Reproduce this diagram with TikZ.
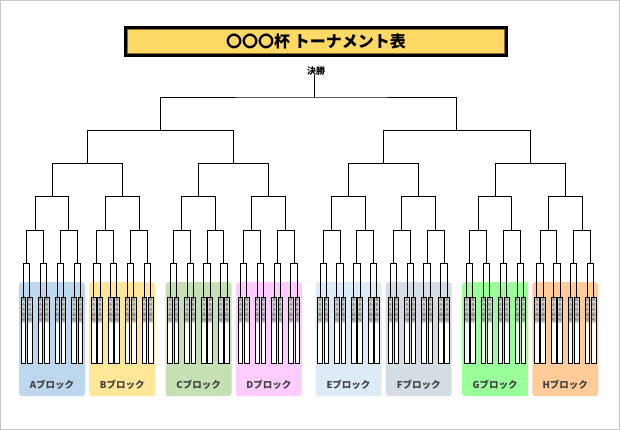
\documentclass[tikz,border=0pt]{standalone}
\usepackage{fontspec}
\setmainfont{Noto Sans CJK JP}
\newfontfamily\jp{Noto Sans CJK JP}
\usetikzlibrary{calc}
\definecolor{titlefill}{HTML}{FFD966}
\definecolor{titleline}{HTML}{8C6D1F}
\definecolor{blkA}{HTML}{BDD7EE}
\definecolor{blkB}{HTML}{FFE699}
\definecolor{blkC}{HTML}{C5E0B4}
\definecolor{blkD}{HTML}{FFCCFF}
\definecolor{blkE}{HTML}{DDEBF7}
\definecolor{blkF}{HTML}{D6DCE4}
\definecolor{blkG}{HTML}{99FF99}
\definecolor{blkH}{HTML}{FFCC99}
\definecolor{namefill}{HTML}{D0D0D0}
\begin{document}
\begin{tikzpicture}[x=1pt,y=-1pt,
  bracket/.style={draw=black, line width=1pt},
  boxline/.style={draw=black, line width=0.9pt},
  teambox/.style={fill=white, minimum width=4.2pt, minimum height=66pt, inner sep=0pt, anchor=north},
  teamtext/.style={font=\jp\fontsize{4.2}{5.1}\selectfont, align=center, inner sep=0pt, text=black!70},
  blockbg/.style={rounded corners=3pt, minimum width=66pt, minimum height=114pt, inner sep=0pt, anchor=north},
  blocklabel/.style={font=\jp\bfseries\fontsize{9.5}{10}\selectfont, text=black!75, inner sep=0pt}]
\useasboundingbox (0,0) rectangle (620,430);
\fill[white] (0,0) rectangle (620,430);
\draw[gray!45, line width=1pt] (0.5,0.5) rectangle (619.5,429.5);
% title
\node[fill=black, minimum width=384pt, minimum height=31pt, inner sep=0pt] (titleouter) at (316,41.5) {};
\node[fill=titlefill, draw=titleline, line width=1pt, minimum width=377pt, minimum height=24pt, inner sep=0pt,
      font=\jp\bfseries\fontsize{16}{16}\selectfont] (title) at (316,41.5) {〇〇〇杯 トーナメント表};
\node[font=\jp\bfseries\fontsize{9}{9}\selectfont, inner sep=0pt] (champ) at (316,71) {決勝};
% level y coordinates
\coordinate (yr) at (0,263.5);
\coordinate (ys) at (0,230.2);
\coordinate (yq) at (0,196.8);
\coordinate (yh) at (0,163.5);
\coordinate (yg) at (0,130.3);
% blocks and teams
\foreach \cx/\col/\lab [count=\b from 0] in {52.0/blkA/A,122.2/blkB/B,198.6/blkC/C,268.8/blkD/D,348.5/blkE/E,418.7/blkF/F,495.1/blkG/G,565.3/blkH/H}{
  \node[blockbg, fill=\col] (blk\lab) at (\cx,282) {};
  \node[blocklabel] (lab\lab) at (\cx,385) {\lab ブロック};
  \foreach \j in {0,...,7}{
    \pgfmathsetmacro\xx{\cx+(2*floor(\j/4)-1)*16.85+(2*mod(floor(\j/2),2)-1)*8.45+(2*mod(\j,2)-1)*3.15}
    \pgfmathtruncatemacro\n{8*\b+\j+1}
    \node[teambox] (t\n) at (\xx,297) {};
    \fill[namefill] (t\n.north west) rectangle ([yshift=-26pt]t\n.north east);
    \ifodd\j \def\nm{B}\else\def\nm{A}\fi
    \node[teamtext] (n\n) at ([yshift=-13pt]t\n.north) {\nm\\\nm\\\nm\\高\\校};
    \draw[boxline] (t\n.north west) rectangle (t\n.south east);
  }
}
% first round
\foreach \k in {1,...,32}{
  \pgfmathtruncatemacro\ia{2*\k-1}
  \pgfmathtruncatemacro\ib{2*\k}
  \coordinate (r\k) at ($(t\ia.north)!0.5!(t\ib.north)$);
  \coordinate (r\k) at (r\k |- yr);
  \draw[bracket] (t\ia.north) |- (r\k) -| (t\ib.north);
}
\foreach \k in {1,...,16}{
  \pgfmathtruncatemacro\ia{2*\k-1}
  \pgfmathtruncatemacro\ib{2*\k}
  \coordinate (s\k) at ($(r\ia)!0.5!(r\ib)$);
  \coordinate (s\k) at (s\k |- ys);
  \draw[bracket] (r\ia) |- (s\k) -| (r\ib);
}
\foreach \k in {1,...,8}{
  \pgfmathtruncatemacro\ia{2*\k-1}
  \pgfmathtruncatemacro\ib{2*\k}
  \coordinate (q\k) at ($(s\ia)!0.5!(s\ib)$);
  \coordinate (q\k) at (q\k |- yq);
  \draw[bracket] (s\ia) |- (q\k) -| (s\ib);
}
\foreach \k in {1,...,4}{
  \pgfmathtruncatemacro\ia{2*\k-1}
  \pgfmathtruncatemacro\ib{2*\k}
  \coordinate (h\k) at ($(q\ia)!0.5!(q\ib)$);
  \coordinate (h\k) at (h\k |- yh);
  \draw[bracket] (q\ia) |- (h\k) -| (q\ib);
}
\foreach \k in {1,2}{
  \pgfmathtruncatemacro\ia{2*\k-1}
  \pgfmathtruncatemacro\ib{2*\k}
  \coordinate (g\k) at ($(h\ia)!0.5!(h\ib)$);
  \coordinate (g\k) at (g\k |- yg);
  \draw[bracket] (h\ia) |- (g\k) -| (h\ib);
}
\coordinate (fin) at (314.5,98);
\draw[bracket] (g1) |- (fin) -| (g2);
\draw[bracket] (fin) -- (fin |- champ.south);
\end{tikzpicture}
\end{document}
